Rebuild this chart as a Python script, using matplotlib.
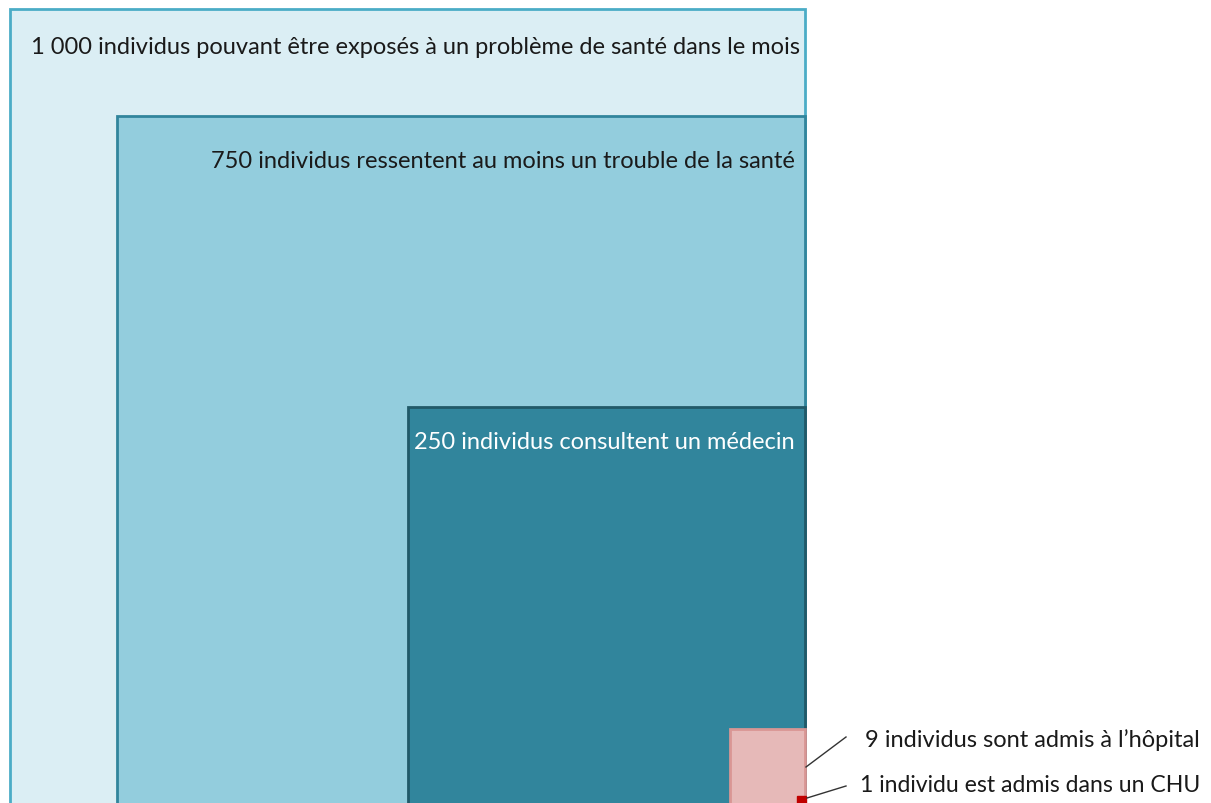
import numpy as np
import matplotlib.pyplot as plt
from matplotlib.patches import Rectangle

plt.rcParams['font.family'] = ['Lato', 'DejaVu Sans']

counts = [1000, 750, 250, 9]
labels = [
    "1 000 individus pouvant être exposés à un problème de santé dans le mois",
    "750 individus ressentent au moins un trouble de la santé",
    "250 individus consultent un médecin",
    "9 individus sont admis à l’hôpital",
]
chu_count = 1
chu_label = "1 individu est admis dans un CHU"

fills = ["#dbeef4", "#93cddd", "#31859c", "#e6b9b8"]
edges = ["#4bacc6", "#31859c", "#215968", "#d99694"]
text_colors = ["#1a1a1a", "#1a1a1a", "#ffffff"]
# label placement inside each square (right padding, offset from top)
pad_right = [5, 10, 10]
pad_top = [37, 45, 35]

# squares share the bottom-right corner, area proportional to count
corner_x, corner_y = 805, 805
full_side = 795

fig = plt.figure(figsize=(12.11, 8.04), dpi=100)
ax = fig.add_axes([0, 0, 1, 1])
ax.set_xlim(0, 1211)
ax.set_ylim(804, 0)
ax.axis('off')

for i, n in enumerate(counts):
    side = full_side * np.sqrt(n / counts[0])
    ax.add_patch(Rectangle((corner_x - side, corner_y - side), side, side,
                           facecolor=fills[i], edgecolor=edges[i], linewidth=2))
    if i < 3:
        ax.text(corner_x - pad_right[i], corner_y - side + pad_top[i], labels[i],
                ha='right', va='center', fontsize=17, color=text_colors[i])

# CHU box is drawn as a small marker
ax.add_patch(Rectangle((797, 797), 9, 9, facecolor="#c00000", edgecolor="#c00000"))

ax.plot([806, 846], [768, 738], color="#333333", lw=1)
ax.plot([807, 846], [799, 787], color="#333333", lw=1)
ax.text(865, 740, labels[3], ha='left', va='center', fontsize=17, color="#1a1a1a")
ax.text(860, 786, chu_label, ha='left', va='center', fontsize=16.6, color="#1a1a1a")

fig.savefig("out.png", dpi=100)
